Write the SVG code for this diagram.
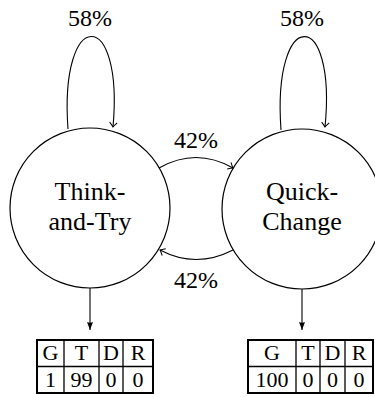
<svg xmlns="http://www.w3.org/2000/svg" width="375" height="397" viewBox="0 0 375 397">
<style>
.node{fill:#fff;stroke:#000;stroke-width:1.2}
.edge{fill:none;stroke:#000;stroke-width:1.1}
text{font-family:'Liberation Serif','Times New Roman','DejaVu Serif',serif;fill:#000;text-anchor:middle}
.lbl{font-size:24px}
.nt{font-size:26px}
.tt{font-size:22px}
.tbo{fill:#fff;stroke:#000;stroke-width:2}
.tbi{stroke:#000;stroke-width:1.3}
</style>
<defs>
<marker id="open" markerWidth="10" markerHeight="10" refX="0" refY="0" viewBox="-6 -5 8 10" orient="auto" markerUnits="userSpaceOnUse">
<path d="M-4.5,-3.8 Q-1.5,-1 0,0 Q-1.5,1 -4.5,3.8" fill="none" stroke="#000" stroke-width="1"/>
</marker>
<marker id="solid" markerWidth="10" markerHeight="10" refX="0" refY="0" viewBox="-9 -5 10 10" orient="auto" markerUnits="userSpaceOnUse">
<path d="M-8,-3 L0,0 L-8,3 Q-6.5,0 -8,-3 Z" fill="#000"/>
</marker>
</defs>
<g id="think">
<circle class="node" cx="90" cy="208" r="80"/>
<text class="nt" x="90" y="200" font-family="Liberation Serif, serif">Think-</text>
<text class="nt" x="90" y="230" font-family="Liberation Serif, serif">and-Try</text>
</g>
<g id="quick">
<circle class="node" cx="302" cy="209" r="80"/>
<text class="nt" x="302" y="200">Quick-</text>
<text class="nt" x="302" y="230">Change</text>
</g>
<g id="connectors">
<path class="edge" d="M68,129 C59,6 124,6 113,127" marker-end="url(#open)"/>
<path class="edge" d="M281,130 C272,6 337,6 325,127" marker-end="url(#open)"/>
<path class="edge" d="M159,168 Q196,147 233,168" marker-end="url(#open)"/>
<path class="edge" d="M233,250 Q196,269 160,250" marker-end="url(#open)"/>
<path class="edge" d="M90,288 L90,330" marker-end="url(#solid)"/>
<path class="edge" d="M302,289 L302,330" marker-end="url(#solid)"/>
</g>
<g id="labels">
<text class="lbl" x="90" y="26">58%</text>
<text class="lbl" x="302" y="26">58%</text>
<text class="lbl" x="196" y="148">42%</text>
<text class="lbl" x="196" y="288">42%</text>
</g>
<g id="table-think">
<rect class="tbo" x="37" y="340" width="116" height="53"/>
<line class="tbi" x1="37" y1="366.5" x2="153" y2="366.5"/>
<line class="tbi" x1="64" y1="340" x2="64" y2="393"/>
<line class="tbi" x1="99" y1="340" x2="99" y2="393"/>
<line class="tbi" x1="123" y1="340" x2="123" y2="393"/>
<text class="tt" x="50.5" y="360">G</text>
<text class="tt" x="81.5" y="360">T</text>
<text class="tt" x="111" y="360">D</text>
<text class="tt" x="138" y="360">R</text>
<text class="tt" x="50.5" y="387">1</text>
<text class="tt" x="81.5" y="387">99</text>
<text class="tt" x="111" y="387">0</text>
<text class="tt" x="138" y="387">0</text>
</g>
<g id="table-quick">
<rect class="tbo" x="248" y="340" width="125" height="53"/>
<line class="tbi" x1="248" y1="366.5" x2="373" y2="366.5"/>
<line class="tbi" x1="296" y1="340" x2="296" y2="393"/>
<line class="tbi" x1="320" y1="340" x2="320" y2="393"/>
<line class="tbi" x1="345" y1="340" x2="345" y2="393"/>
<text class="tt" x="272" y="360">G</text>
<text class="tt" x="308" y="360">T</text>
<text class="tt" x="332.5" y="360">D</text>
<text class="tt" x="359" y="360">R</text>
<text class="tt" x="272" y="387">100</text>
<text class="tt" x="308" y="387">0</text>
<text class="tt" x="332.5" y="387">0</text>
<text class="tt" x="359" y="387">0</text>
</g>
</svg>
